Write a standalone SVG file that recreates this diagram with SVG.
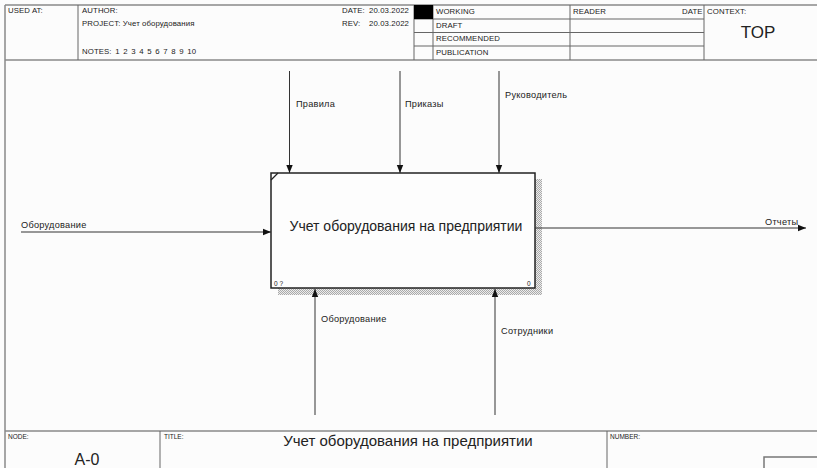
<svg xmlns="http://www.w3.org/2000/svg" width="817" height="468" viewBox="0 0 817 468">
<defs>
<style>
.frame{stroke:#8a8a8a;stroke-width:1.5;fill:none}
.thin{stroke:#666;stroke-width:1;fill:none}
.t{font-family:"Liberation Sans",Arial,sans-serif;fill:#222}
.s{font-size:7.8px;letter-spacing:0.1px}
.lbl{font-size:9.2px;letter-spacing:0.25px}
.arr{stroke:#333;stroke-width:1;fill:none;marker-end:url(#ah)}
</style>
<marker id="ah" viewBox="0 0 10 10" refX="10" refY="5" markerWidth="8" markerHeight="8" markerUnits="userSpaceOnUse" orient="auto">
<path d="M0,1 L10,5 L0,9 z" fill="#111"/>
</marker>
<pattern id="sh" width="2" height="2" patternUnits="userSpaceOnUse">
<rect width="2" height="2" fill="#ececec"/>
<rect width="1" height="1" fill="#aaa"/>
<rect x="1" y="1" width="1" height="1" fill="#aaa"/>
</pattern>
</defs>
<rect width="817" height="468" fill="#fcfcfc"/>
<g id="frame">
<line class="frame" x1="5" y1="5" x2="817" y2="5"/>
<line class="frame" x1="5" y1="5" x2="5" y2="468"/>
<line class="frame" x1="5" y1="60" x2="817" y2="60"/>
<line class="thin" x1="78" y1="5" x2="78" y2="60"/>
<line class="thin" x1="414" y1="5" x2="414" y2="60"/>
<line class="thin" x1="433" y1="5" x2="433" y2="60"/>
<line class="thin" x1="570" y1="5" x2="570" y2="60"/>
<line class="thin" x1="704" y1="5" x2="704" y2="60"/>
<line class="thin" x1="414" y1="19" x2="704" y2="19"/>
<line class="thin" x1="414" y1="32.5" x2="704" y2="32.5"/>
<line class="thin" x1="414" y1="46" x2="704" y2="46"/>
<rect x="414" y="5" width="19" height="14" fill="#000"/>
<line class="frame" x1="5" y1="431" x2="817" y2="431"/>
<line class="thin" x1="160" y1="431" x2="160" y2="468"/>
<line class="thin" x1="607" y1="431" x2="607" y2="468"/>
<path d="M764,468 V457 H817" stroke="#777" stroke-width="1.5" fill="none"/>
</g>
<g id="header">
<text class="t s" x="8" y="13">USED AT:</text>
<text class="t s" x="82" y="13">AUTHOR:</text>
<text class="t s" x="82" y="25.5">PROJECT:  Учет оборудования</text>
<text class="t s" x="82" y="54" word-spacing="1.3">NOTES:  1  2  3  4  5  6  7  8  9  10</text>
<text class="t s" x="342" y="13">DATE:</text>
<text class="t s" x="369" y="13">20.03.2022</text>
<text class="t s" x="342" y="25.5">REV:</text>
<text class="t s" x="369" y="25.5">20.03.2022</text>
<text class="t s" x="436" y="14">WORKING</text>
<text class="t s" x="436" y="27.5">DRAFT</text>
<text class="t s" x="436" y="41">RECOMMENDED</text>
<text class="t s" x="436" y="54.5">PUBLICATION</text>
<text class="t s" x="573" y="14">READER</text>
<text class="t s" x="682" y="14">DATE</text>
<text class="t s" x="707" y="14">CONTEXT:</text>
<text class="t" x="758" y="38" font-size="17" text-anchor="middle">TOP</text>
</g>
<g id="footer">
<text class="t" x="8" y="439" font-size="6.5">NODE:</text>
<text class="t" x="87" y="465" font-size="16" text-anchor="middle">A-0</text>
<text class="t" x="164" y="439" font-size="6.5">TITLE:</text>
<text class="t" x="408" y="446" font-size="15" text-anchor="middle">Учет оборудования на предприятии</text>
<text class="t" x="610" y="439" font-size="6.5">NUMBER:</text>
</g>
<g id="node-A0">
<rect x="278" y="179" width="264" height="116" fill="url(#sh)"/>
<rect x="271" y="173" width="264" height="115" fill="#fdfdfd" stroke="#222" stroke-width="1.5"/>
<line x1="271" y1="180" x2="278" y2="173" stroke="#222" stroke-width="1.2"/>
<text class="t" x="406" y="231" font-size="14" text-anchor="middle">Учет оборудования на предприятии</text>
<text class="t" x="274" y="286" font-size="6.5">0 ?</text>
<text class="t" x="527" y="286" font-size="6.5">0</text>
</g>
<g id="connectors">
<line class="arr" x1="289.5" y1="71" x2="289.5" y2="173"/>
<line class="arr" x1="400" y1="71" x2="400" y2="173"/>
<line class="arr" x1="499" y1="71" x2="499" y2="173"/>
<line class="arr" x1="21" y1="232" x2="271" y2="232"/>
<line class="arr" x1="535" y1="228" x2="806" y2="228"/>
<line class="arr" x1="315" y1="415" x2="315" y2="289"/>
<line class="arr" x1="495" y1="415" x2="495" y2="289"/>
<text class="t lbl" x="296" y="107">Правила</text>
<text class="t lbl" x="405" y="107">Приказы</text>
<text class="t lbl" x="505" y="98">Руководитель</text>
<text class="t lbl" x="21" y="228">Оборудование</text>
<text class="t lbl" x="765" y="225">Отчеты</text>
<text class="t lbl" x="321" y="322">Оборудование</text>
<text class="t lbl" x="501" y="334">Сотрудники</text>
</g>
</svg>
